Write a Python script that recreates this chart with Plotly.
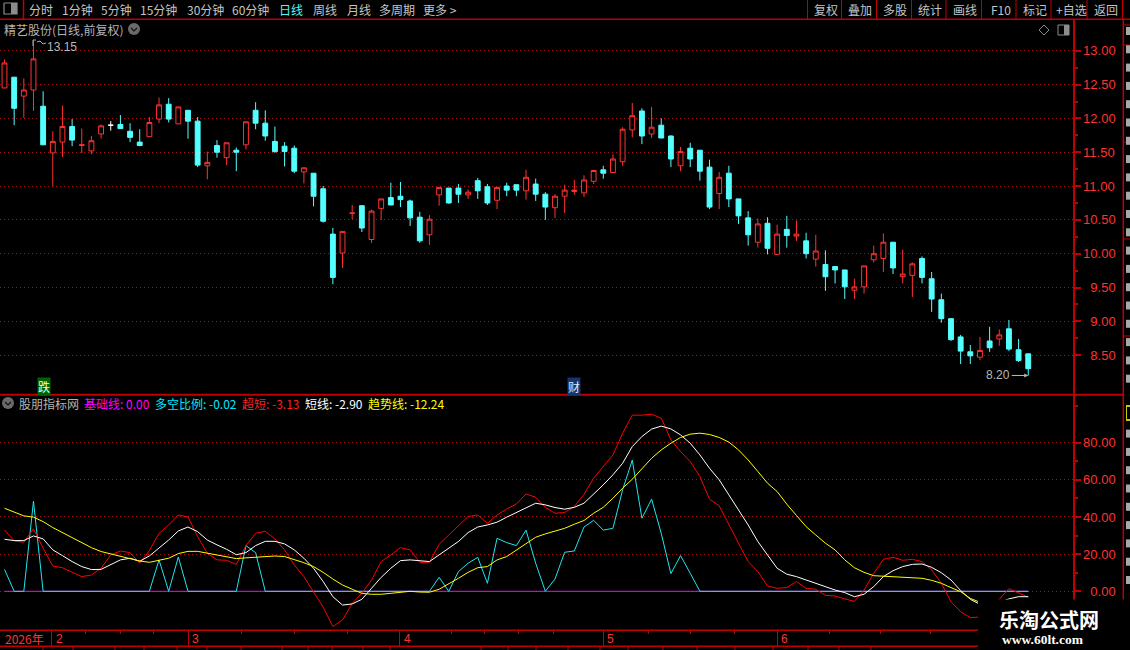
import plotly.graph_objects as go

W, H = 1130, 650

# ---------- data ----------
opens = [12.45,12.61,12.33,12.42,12.18,11.49,11.65,11.88,11.60,11.52,11.77,11.90,11.91,11.81,11.65,11.73,11.99,12.21,11.92,12.12,
         11.96,11.30,11.60,11.42,11.53,11.61,12.12,11.93,11.66,11.59,11.56,11.21,11.19,10.96,10.29,10.01,10.60,10.71,10.21,10.67,
         10.83,10.85,10.78,10.54,10.28,10.87,10.97,10.97,10.87,11.08,10.99,10.79,11.00,11.02,10.93,11.03,10.88,10.68,10.85,10.92,
         10.90,11.07,11.24,11.20,11.36,11.83,12.11,11.77,11.90,11.74,11.30,11.56,11.53,11.28,10.89,11.19,10.81,10.53,10.17,10.45,
         9.99,10.36,10.26,10.19,9.92,9.84,9.81,9.76,9.46,9.51,9.91,9.93,10.17,9.66,9.68,9.93,9.63,9.32,9.04,8.77,
         8.55,8.47,8.71,8.74,8.89,8.58,8.52]
highs = [12.87,12.61,12.59,13.15,12.40,11.81,12.19,11.99,11.85,11.74,11.91,11.96,12.05,11.93,11.84,12.02,12.31,12.30,12.17,12.12,
         12.02,11.51,11.68,11.64,11.57,11.95,12.24,12.12,11.88,11.65,11.60,11.27,11.19,11.00,10.38,10.33,10.72,10.71,10.65,10.81,
         11.05,11.06,10.80,10.62,10.57,10.98,10.97,11.03,10.95,11.12,11.03,10.98,11.05,11.02,11.24,11.11,10.91,10.88,11.02,11.09,
         11.16,11.23,11.30,11.47,11.87,12.23,12.15,12.17,12.00,11.75,11.58,11.64,11.53,11.39,11.21,11.30,10.81,10.63,10.52,10.54,
         10.43,10.56,10.49,10.31,10.28,10.05,9.81,9.76,9.63,9.82,10.12,10.30,10.17,10.06,9.87,9.96,9.73,9.41,9.05,8.80,
         8.65,8.77,8.92,8.88,9.02,8.74,8.52]
lows = [12.45,11.90,12.01,12.11,11.61,11.00,11.43,11.59,11.49,11.47,11.70,11.82,11.85,11.65,11.59,11.73,11.93,11.94,11.92,11.70,
        11.28,11.10,11.42,11.31,11.22,11.54,11.84,11.67,11.49,11.29,11.19,11.04,10.70,10.46,9.55,9.79,10.51,10.32,10.16,10.50,
        10.72,10.69,10.41,10.16,10.13,10.71,10.74,10.75,10.81,10.81,10.72,10.66,10.85,10.85,10.80,10.78,10.50,10.53,10.60,10.87,
        10.84,11.03,11.11,11.20,11.30,11.72,11.62,11.71,11.71,11.28,11.22,11.28,11.08,10.66,10.66,10.69,10.44,10.12,10.09,9.99,
        9.98,10.09,10.19,9.93,9.81,9.45,9.56,9.33,9.33,9.41,9.87,9.73,9.70,9.56,9.36,9.56,9.14,8.98,8.71,8.37,
        8.37,8.43,8.55,8.64,8.56,8.40,8.20]
closes = [12.82,12.15,12.42,12.88,11.61,11.66,11.88,11.68,11.61,11.67,11.89,11.90,11.85,11.72,11.60,11.94,12.20,11.99,12.17,11.96,
          11.31,11.35,11.50,11.64,11.50,11.95,11.93,11.74,11.51,11.51,11.22,11.27,10.85,10.48,9.65,10.33,10.60,10.38,10.63,10.81,
          10.72,10.80,10.53,10.19,10.51,10.98,10.75,10.88,10.91,10.93,10.75,10.98,10.94,10.94,11.13,10.88,10.69,10.85,10.94,10.94,
          11.09,11.23,11.19,11.40,11.84,12.04,11.74,11.87,11.71,11.40,11.51,11.40,11.22,10.69,11.13,10.81,10.56,10.28,10.44,10.08,
          10.29,10.27,10.29,10.00,10.04,9.66,9.76,9.51,9.51,9.82,10.00,10.17,9.79,9.70,9.85,9.65,9.33,9.04,8.73,8.56,
          8.49,8.57,8.61,8.80,8.59,8.42,8.30]

cyan_ratio = [11.8,0,0,48.5,0,0,0,0,0,0,0,0,0,0,0,0,16.9,0,18.5,0,
              0,0,0,0,0,24.6,20.8,0,0,0,0,0,0,0,0,0,0,0,0,0,
              0,0,0,0,0,7.5,0,10.6,15.1,18.3,4.3,28.5,26.2,24.6,32.9,15.1,0,6.6,21.0,21.7,
              34.6,38.2,32.9,33.9,54.6,70.6,39.3,49.6,31.2,9.5,19.2,9.7,0,0,0,0,0,0,0,0,
              0,0,0,0,0,0,0,0,0,0,0,0,0,0,0,0,0,0,0,0,
              0,0,0,0,0,0,-0.02]
red_short = [33.0,27.1,26.4,33.6,23.2,13.6,12.7,10.1,7.9,8.8,12.4,19.6,21.7,20.8,15.1,21.9,31.2,35.7,41.1,40.0,
             29.4,20.5,16.9,16.7,14.5,24.6,31.2,32.3,28.2,22.3,14.2,7.9,-0.2,-8.6,-19.0,-15.4,-6.5,-1.0,6.1,16.0,
             19.6,23.5,22.3,15.6,15.6,25.3,30.3,35.4,40.2,41.1,36.6,41.1,44.3,47.0,52.4,50.6,45.2,42.0,42.4,45.6,
             52.2,60.9,67.1,73.4,85.1,94.8,94.8,95.3,93.2,81.5,75.2,69.8,61.8,49.6,46.0,35.7,25.9,16.0,10.6,2.9,
             1.6,2.0,5.2,1.6,1.1,-2.2,-2.5,-4.1,-5.4,0.7,9.7,17.2,18.3,16.7,17.2,16.0,11.5,4.3,-5.6,-11.0,
             -14.2,-13.8,-9.0,-4.3,1.4,-0.7,-3.13]
white_short = [28.0,27.3,27.3,29.8,28.2,22.3,19.2,16.0,13.3,11.7,11.8,14.2,16.9,17.8,16.2,19.0,23.2,27.6,32.5,34.6,
               32.1,27.6,25.0,22.6,19.7,20.8,24.6,26.9,26.9,25.5,22.3,17.8,12.4,5.2,-2.9,-7.4,-6.8,-4.3,1.6,7.5,
               12.4,16.5,16.9,16.3,16.0,19.6,23.2,26.8,31.6,34.6,35.7,37.2,39.9,42.4,45.2,47.4,46.5,45.1,44.2,45.2,
               47.4,52.2,57.3,62.7,68.9,77.9,83.3,87.3,88.9,87.4,84.2,79.7,73.4,66.2,60.0,51.9,43.8,35.7,26.8,19.6,
               12.4,9.2,7.9,6.1,4.3,2.3,0.7,-0.7,-2.9,-1.6,2.5,7.9,11.1,13.3,14.5,14.7,12.9,10.0,6.1,0.4,
               -4.3,-7.0,-7.0,-6.0,-4.1,-2.9,-2.9]
yellow_trend = [44.7,42.5,40.6,39.9,37.5,34.3,31.6,28.5,25.9,23.5,21.4,20.1,19.2,17.8,16.3,15.6,16.7,17.8,20.3,21.5,
                21.5,20.5,19.6,18.7,17.6,18.0,18.3,19.0,19.0,18.7,17.2,15.4,13.3,10.2,6.6,3.4,1.1,-1.1,-1.6,-1.6,
                -1.1,-0.4,0.0,-0.4,-0.5,1.1,3.9,7.0,10.2,12.7,13.3,16.9,18.7,22.3,25.9,29.1,30.9,32.5,33.9,36.1,
                38.1,42.0,45.2,50.1,55.5,60.3,65.9,71.6,76.1,79.7,82.8,84.6,85.1,84.4,82.8,80.3,76.1,70.7,64.5,58.2,
                53.7,46.9,40.8,34.8,30.3,25.9,22.3,16.9,12.7,10.2,8.4,8.1,8.1,7.5,7.4,7.0,5.9,4.3,2.0,-0.2,
                -3.8,-6.1,-8.0,-9.0,-10.5,-11.5,-12.24]
base_line = [0.0] * 107

price_ticks = [8.5, 9.0, 9.5, 10.0, 10.5, 11.0, 11.5, 12.0, 12.5, 13.0]
price_labels = ["\u20078.50", "\u20079.00", "\u20079.50", "10.00", "10.50", "11.00", "11.50", "12.00", "12.50", "13.00"]
price_minor = [8.75, 9.25, 9.75, 10.25, 10.75, 11.25, 11.75, 12.25, 12.75]
ind_ticks = [0, 20, 40, 60, 80]
ind_labels = ["\u20070.00", "20.00", "40.00", "60.00", "80.00"]
ind_minor = [10, 30, 50, 70, 100]
month_ticks = [4.9, 19, 40.9, 62, 80]
month_labels = ["2", "3", "4", "5", "6"]
week_ticks = [8.4, 12, 15.4, 24.5, 30, 35.5, 46.3, 49.7, 53.2, 56.8, 66.7, 71, 75.6, 85.4, 90.7, 95.9]

toolbar_left = [("分时", 28), ("1分钟", 61), ("5分钟", 100), ("15分钟", 139), ("30分钟", 186), ("60分钟", 231),
                ("日线", 278), ("周线", 312), ("月线", 346), ("多周期", 378), ("更多 >", 422)]
toolbar_right = [("复权", 813), ("叠加", 847), ("多股", 882), ("统计", 917), ("画线", 952), ("F10", 990),
                 ("标记", 1022), ("+自选", 1055), ("返回", 1093)]
toolbar_seps = [807.5, 841.5, 876.5, 911.5, 946, 981.5, 1016, 1051, 1087, 1122.5]
legend_items = [("股朋指标网", 18, "#b4b4b4"), ("基础线: 0.00", 83, "#ff00ff"), ("多空比例: -0.02", 154, "#00e8ff"),
                ("超短: -3.13", 241, "#ff2020"), ("短线: -2.90", 304, "#ffffff"), ("趋势线: -12.24", 367, "#ffff00")]
tab_seps = [43, 73, 115, 144, 177, 207, 241, 282, 308, 332, 363, 390, 481, 508, 536, 568, 600, 628, 663, 697, 735, 773, 808, 839, 871]
strip_rules = [25, 45, 142, 239, 336]

# ---------- palette / helpers ----------
RED_AXIS = "#c00000"
RED_TXT = "#ff3232"
CANDLE_UP = "#ff3232"
CANDLE_DN = "#54ffff"
GRID = "#a81414"
CJK = "Noto Sans CJK SC"
LAT = "Liberation Sans"


def fx(px):
    return px / W


def fy(py):
    return 1 - py / H


x_idx = list(range(len(opens)))
X_STEP = 9.658
X0 = 4.5
x_range = [-X0 / X_STEP, (1072.5 - X0) / X_STEP]

P_SCALE = 67.7
price_range = [13 - (394 - 50.5) / P_SCALE, 13 + (50.5 - 19) / P_SCALE]
I_SCALE = 1.858
ind_range = [-(630 - 591.3) / I_SCALE, (591.3 - 395) / I_SCALE]

cross = 11  # the one flat candle, drawn white
mask = [i for i in x_idx if i != cross]

fig = go.Figure()
fig.add_trace(go.Candlestick(
    x=mask,
    open=[opens[i] for i in mask], high=[highs[i] for i in mask],
    low=[lows[i] for i in mask], close=[closes[i] for i in mask],
    increasing=dict(line=dict(color=CANDLE_UP, width=1), fillcolor="#000000"),
    decreasing=dict(line=dict(color=CANDLE_DN, width=1), fillcolor=CANDLE_DN),
    whiskerwidth=0, xaxis="x", yaxis="y", showlegend=False, hoverinfo="skip"))
fig.add_trace(go.Candlestick(
    x=[cross], open=[opens[cross]], high=[highs[cross]], low=[lows[cross]], close=[closes[cross]],
    increasing=dict(line=dict(color="#ffffff", width=1), fillcolor="#ffffff"),
    decreasing=dict(line=dict(color="#ffffff", width=1), fillcolor="#ffffff"),
    whiskerwidth=0, xaxis="x", yaxis="y", showlegend=False, hoverinfo="skip"))

for name, vals, col in [("基础线", base_line, "#ff00ff"), ("多空比例", cyan_ratio, "#1ee6f0"),
                        ("超短", red_short, "#ff0000"), ("短线", white_short, "#ffffff"),
                        ("趋势线", yellow_trend, "#ffff00")]:
    fig.add_trace(go.Scatter(x=x_idx, y=vals, mode="lines", name=name, line=dict(color=col, width=1),
                             xaxis="x2", yaxis="y2", showlegend=False, hoverinfo="skip"))

# ---------- frame and decoration ----------
shapes = []


def hline(y, x0, x1, w=1.5, col=RED_AXIS):
    shapes.append(dict(type="line", xref="paper", yref="paper", x0=fx(x0), x1=fx(x1), y0=fy(y), y1=fy(y),
                       line=dict(color=col, width=w)))


def vline(x, y0, y1, w=1.5, col=RED_AXIS):
    shapes.append(dict(type="line", xref="paper", yref="paper", x0=fx(x), x1=fx(x), y0=fy(y0), y1=fy(y1),
                       line=dict(color=col, width=w)))


def pathshape(points, col="#8c8c8c", w=1, fill=None):
    d = "M" + " L".join(f"{fx(a):.5f},{fy(b):.5f}" for a, b in points)
    s = dict(type="path", xref="paper", yref="paper", path=d, line=dict(color=col, width=w))
    if fill:
        s["fillcolor"] = fill
    shapes.append(s)


def block(x0, y0, x1, y1, col):
    shapes.append(dict(type="rect", xref="paper", yref="paper", x0=fx(x0), x1=fx(x1), y0=fy(y1), y1=fy(y0),
                       fillcolor=col, line=dict(width=0)))


hline(19.3, 0, W)
hline(394.7, 0, 1123, 2)
hline(630.3, 0, 1123)
hline(646.3, 0, W)
vline(1123.3, 19, 650)
vline(23.5, 0, 19)
for s in toolbar_seps:
    vline(s, 0, 19, 1)
for s in tab_seps:
    vline(s, 646, 650, 1)

# the clipped column at the far right edge
for y in strip_rules:
    hline(y, 1123, W, 1)
for k in range(31):
    y0 = 27 + k * 18.3
    if 395 < y0 + 8 and y0 < 422:
        continue
    block(1126, y0, W, y0 + 8, "#a8a8a8")
block(1126, 405, W, 421, "#c8c800")
block(1127, 407, W, 419, "#000000")


def circle(cx, cy):
    shapes.append(dict(type="circle", xref="paper", yref="paper", x0=fx(cx - 6), x1=fx(cx + 6), y0=fy(cy + 6), y1=fy(cy - 6),
                       fillcolor="#6a6a6a", line=dict(width=0)))
    pathshape([(cx - 3, cy - 1), (cx, cy + 2), (cx + 3, cy - 1)], col="#111111", w=1.2)


circle(134, 29)
circle(8, 403)

# toolbar window icon
pathshape([(4, 3), (17, 3), (17, 14), (4, 14), (4, 3)], col="#8c8c8c", w=1.2)
block(11, 3, 17, 14, "#8c8c8c")
# diamond and panel icon at top right
pathshape([(1044, 25), (1049, 30), (1044, 35), (1039, 30), (1044, 25)])
pathshape([(1058, 25), (1069, 25), (1069, 35), (1058, 35), (1058, 25)])
block(1064, 25, 1069, 35, "#8c8c8c")
# small flag beside the high
pathshape([(33, 46), (33, 40), (36, 40)], col="#b0b0b0")
pathshape([(37, 42), (40, 41), (43, 44), (46, 43)], col="#b0b0b0")

# watermark patch
shapes.append(dict(type="rect", xref="paper", yref="paper", x0=fx(978), x1=1, y0=0, y1=fy(599.5),
                   fillcolor="#000000", line=dict(width=0), layer="above"))

anns = []


def label(txt, px, py, col="#c4c4c4", size=12, fam=CJK, anchor="left", **kw):
    anns.append(dict(text=txt, xref="paper", yref="paper", x=fx(px), y=fy(py), xanchor=anchor, yanchor="middle",
                     showarrow=False, font=dict(color=col, size=size, family=fam), borderpad=0, **kw))


for t, px in toolbar_left + toolbar_right:
    label(t, px, 9.5, col="#55f5ff" if t == "日线" else "#c4c4c4")
label("精艺股份(日线,前复权)", 3, 29.5, col="#b4b4b4")
for t, px, c in legend_items:
    label(t, px, 403, col=c)
label("2026年", 4, 638.5, col=RED_TXT)
for t, m in zip(month_labels, month_ticks):
    anns.append(dict(text=t, xref="x2", yref="paper", x=m, y=fy(638.5), xanchor="left", yanchor="middle", xshift=2,
                     showarrow=False, font=dict(color=RED_TXT, size=12, family=LAT)))
label("跌", 37, 386.5, col="#e8ffe8", bgcolor="#006400")
label("财", 567, 386.5, col="#dfe8ff", bgcolor="#16346e")
label("<b>乐淘公式网</b>", 998, 619, col="#ffffff", size=20, fam=CJK + ", sans-serif")
label("<b>www.60lt.com</b>", 1001, 639, col="#ffffff", size=13.5, fam="Liberation Serif")

# high / low marks tied to the price axis
anns.append(dict(text="13.15", xref="x", yref="y", x=3, y=13.15, xanchor="left", yanchor="middle", xshift=12, yshift=-6,
                 showarrow=False, font=dict(color="#b8b8b8", size=12, family=LAT)))
anns.append(dict(text="8.20", xref="x", yref="y", x=106, y=8.20, ax=-30, ay=0, axref="pixel", ayref="pixel",
                 showarrow=True, arrowhead=2, arrowsize=0.8, arrowwidth=1, arrowcolor="#b8b8b8", standoff=0,
                 font=dict(color="#b8b8b8", size=12, family=LAT)))

axis_y = dict(side="right", showline=True, linecolor=RED_AXIS, linewidth=2, ticks="outside", ticklen=6, tickwidth=1.5,
              tickcolor=RED_AXIS, showgrid=True, gridcolor=GRID, griddash="1px,3px", gridwidth=1, zeroline=False,
              tickfont=dict(color=RED_TXT, size=13, family=LAT), tickmode="array", fixedrange=True)

fig.update_layout(
    width=W, height=H, autosize=False, margin=dict(l=0, r=0, t=0, b=0, pad=0),
    paper_bgcolor="#000000", plot_bgcolor="#000000", showlegend=False, boxgap=0.28,
    xaxis=dict(domain=[0, fx(1072.5)], range=x_range, visible=False, fixedrange=True, rangeslider=dict(visible=False), anchor="y"),
    xaxis2=dict(domain=[0, fx(1072.5)], range=x_range, anchor="y2", showgrid=False, zeroline=False, showline=False,
                showticklabels=False, ticks="outside", tickmode="array", tickvals=month_ticks, ticklen=16, tickwidth=1,
                tickcolor=RED_AXIS, fixedrange=True,
                minor=dict(tickmode="array", tickvals=week_ticks, ticks="outside", ticklen=3, tickcolor=RED_AXIS, showgrid=False)),
    yaxis=dict(domain=[fy(394), fy(19.3)], range=price_range, anchor="x", tickvals=price_ticks, ticktext=price_labels,
               minor=dict(tickmode="array", tickvals=price_minor, ticks="outside", ticklen=3, tickcolor=RED_AXIS, showgrid=False),
               **axis_y),
    yaxis2=dict(domain=[fy(630), fy(395)], range=ind_range, anchor="x2", tickvals=ind_ticks, ticktext=ind_labels,
                minor=dict(tickmode="array", tickvals=ind_minor, ticks="outside", ticklen=3, tickcolor=RED_AXIS, showgrid=False),
                **axis_y),
    shapes=shapes, annotations=anns,
)

fig.write_html("out.html", config=dict(displayModeBar=False),
               post_script="document.body.style.margin='0';document.body.style.background='#000';document.documentElement.style.overflow='hidden';")
